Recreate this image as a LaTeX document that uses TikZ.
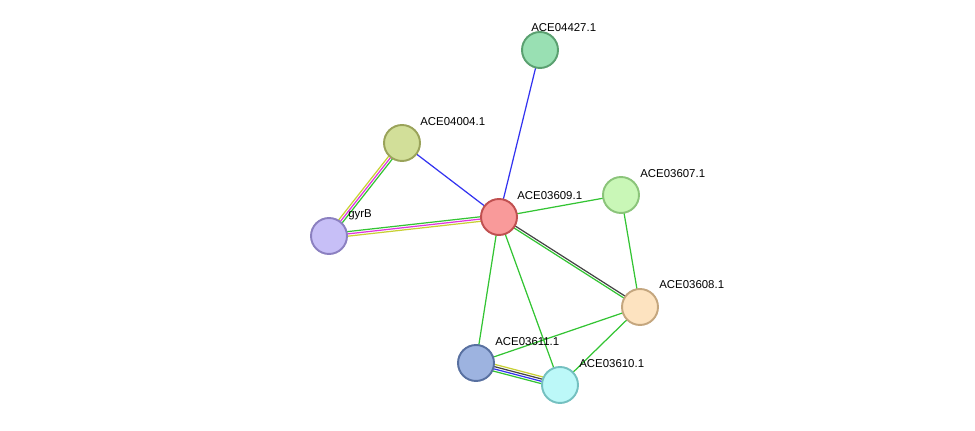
\documentclass[tikz,border=0pt]{standalone}
\usepackage{fontspec}
\setmainfont{Liberation Sans}
\usetikzlibrary{calc}
\definecolor{cgreen}{HTML}{33C433}
\definecolor{cblue}{HTML}{3333F0}
\definecolor{cmag}{HTML}{E033E0}
\definecolor{cyel}{HTML}{C8D033}
\definecolor{cdark}{HTML}{444444}
\tikzset{
  prot/.style={circle, minimum size=0.72cm, inner sep=0pt, line width=1.1pt},
  lab/.style={anchor=west, font=\fontsize{6.5}{7}\selectfont, inner sep=0pt},
  edge/.style={line width=0.7pt}
}
% edge with a perpendicular offset
\newcommand{\oedge}[4]{\draw[edge,#4] ($(#1)!#3!90:(#2)$) -- ($(#2)!#3!-90:(#1)$);}
\begin{document}
\begin{tikzpicture}[x=0.02cm,y=-0.02cm]
    \useasboundingbox (0,0) rectangle (975,431);
    % coordinaten
    \coordinate (p4427) at (540,50);
    \coordinate (p4004) at (402,143);
    \coordinate (pgyr) at (329,236);
    \coordinate (p3609) at (499,217);
    \coordinate (p3607) at (621,195);
    \coordinate (p3608) at (640,307);
    \coordinate (p3611) at (476,363);
    \coordinate (p3610) at (560,385);
    % verbindingen
    \draw[edge,cblue] (p4427) -- (p3609);
    \draw[edge,cblue] (p4004) -- (p3609);
    \oedge{p4004}{pgyr}{1.3pt}{cgreen}
    \oedge{p4004}{pgyr}{0pt}{cmag}
    \oedge{p4004}{pgyr}{-1.3pt}{cyel}
    \oedge{pgyr}{p3609}{1.3pt}{cgreen}
    \oedge{pgyr}{p3609}{0pt}{cmag}
    \oedge{pgyr}{p3609}{-1.3pt}{cyel}
    \draw[edge,cgreen] (p3609) -- (p3607);
    \oedge{p3609}{p3608}{0.65pt}{cdark}
    \oedge{p3609}{p3608}{-0.65pt}{cgreen}
    \draw[edge,cgreen] (p3609) -- (p3611);
    \draw[edge,cgreen] (p3609) -- (p3610);
    \draw[edge,cgreen] (p3607) -- (p3608);
    \draw[edge,cgreen] (p3608) -- (p3611);
    \draw[edge,cgreen] (p3608) -- (p3610);
    \oedge{p3611}{p3610}{1.95pt}{cyel}
    \oedge{p3611}{p3610}{0.65pt}{cdark}
    \oedge{p3611}{p3610}{-0.65pt}{cblue}
    \oedge{p3611}{p3610}{-1.95pt}{cgreen}
    % eiwitten
    \node[prot,fill={rgb,255:red,153;green,224;blue,179},draw={rgb,255:red,90;green,160;blue,112}] (n4427) at (p4427) {};
    \node[prot,fill={rgb,255:red,210;green,223;blue,153},draw={rgb,255:red,154;green,163;blue,90}] (n4004) at (p4004) {};
    \node[prot,fill={rgb,255:red,199;green,191;blue,247},draw={rgb,255:red,139;green,128;blue,192}] (ngyr) at (pgyr) {};
    \node[prot,fill={rgb,255:red,249;green,154;blue,154},draw={rgb,255:red,192;green,80;blue,80}] (n3609) at (p3609) {};
    \node[prot,fill={rgb,255:red,201;green,247;blue,183},draw={rgb,255:red,139;green,196;blue,122}] (n3607) at (p3607) {};
    \node[prot,fill={rgb,255:red,253;green,227;blue,192},draw={rgb,255:red,196;green,166;blue,126}] (n3608) at (p3608) {};
    \node[prot,fill={rgb,255:red,157;green,179;blue,224},draw={rgb,255:red,88;green,112;blue,160}] (n3611) at (p3611) {};
    \node[prot,fill={rgb,255:red,188;green,248;blue,248},draw={rgb,255:red,116;green,192;blue,192}] (n3610) at (p3610) {};
    % labels
    \node[lab] (l4427) at (531,28) {ACE04427.1};
    \node[lab] (l4004) at (420,122) {ACE04004.1};
    \node[lab] (lgyr) at (348,215) {gyrB};
    \node[lab] (l3609) at (517,196) {ACE03609.1};
    \node[lab] (l3607) at (640,174) {ACE03607.1};
    \node[lab] (l3608) at (659,285) {ACE03608.1};
    \node[lab] (l3611) at (495,342) {ACE03611.1};
    \node[lab] (l3610) at (579,364) {ACE03610.1};
\end{tikzpicture}
\end{document}
